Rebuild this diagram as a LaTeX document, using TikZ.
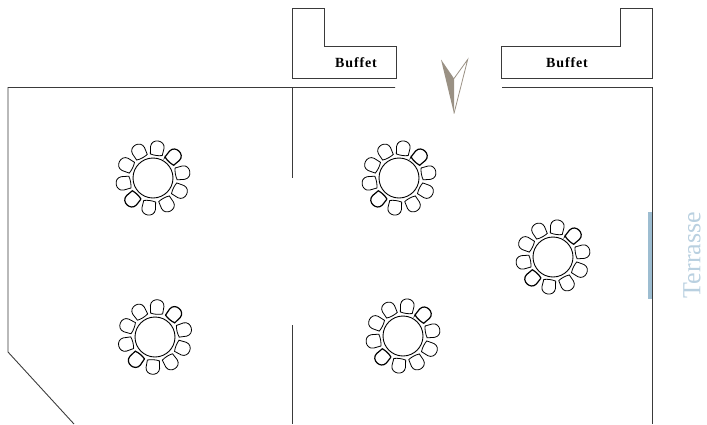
\documentclass[tikz,border=0pt]{standalone}
\usepackage{fontspec}
\setmainfont{Liberation Serif}
\definecolor{wallgrey}{HTML}{3A3A3A}
\definecolor{terrasseblue}{HTML}{9DBDD1}
\definecolor{terrassetext}{HTML}{B9D0E0}
\definecolor{compasstaupe}{HTML}{9A9184}
\tikzset{
  wall/.style={draw=wallgrey,line width=0.9pt},
  chair/.style={draw=black,line width=0.8pt},
  chairdark/.style={draw=black,line width=1.2pt},
  tabletop/.style={draw=black,line width=0.9pt},
  buffetlabel/.style={font=\fontsize{14}{16}\selectfont\bfseries\addfontfeature{LetterSpace=6}}
}
\begin{document}
\begin{tikzpicture}[x=1pt,y=-1pt]
\useasboundingbox (0,0) rectangle (707,424);
% walls
\draw [wall] (395,87.5) -- (8,87.5) -- (8,352) -- (74,424);
\draw [wall] (292,87.5) -- (292,178);
\draw [wall] (292,325) -- (292,424);
\draw [wall] (502,87.5) -- (652,87.5) -- (652,424);
% buffets
\draw [wall] (292,8) -- (324,8) -- (324,46) -- (396,46) -- (396,78) -- (292,78) -- cycle;
\draw [wall] (501,46) -- (620,46) -- (620,8) -- (652,8) -- (652,78) -- (501,78) -- cycle;
\node (buffetleft) [buffetlabel] at (356,63) {Buffet};
\node (buffetright) [buffetlabel] at (567,63) {Buffet};
% terrasse
\fill [terrasseblue] (648,212) rectangle (652,299);
\node (terrasse) [rotate=90,text=terrassetext] at (692,255) {\fontsize{26}{28}\selectfont Terrasse};
% compass
\fill [compasstaupe] (441,59.5) -- (454,78.5) -- (454,113.5) -- cycle;
\draw [compasstaupe,line width=0.8pt,line join=miter] (454,78.5) -- (467.7,59.5) -- (454,113.5);
% tables
\foreach \cx/\cy/\turn in {153/178/0,399/178/0,553/257/0,155/337/4,403/336/0} {
  \begin{scope}[shift={(\cx,\cy)}]
  \draw [tabletop] (0,0) circle (20);
  \foreach \a in {0,1,...,9} {
    \pgfmathsetmacro{\ang}{10+\turn+36*\a}
    \ifnum\a=1 \tikzset{chairnow/.style={chairdark}}\else\ifnum\a=6 \tikzset{chairnow/.style={chairdark}}\else\tikzset{chairnow/.style={chair}}\fi\fi
    \draw [chairnow,rotate=\ang] (23.5,-6) -- (31,-6.8) .. controls (39.5,-6.8) and (39.5,6.8) .. (31,6.8) -- (23.5,6) .. controls (22.5,2) and (22.5,-2) .. cycle;
  }
  \end{scope}
}
\end{tikzpicture}
\end{document}
